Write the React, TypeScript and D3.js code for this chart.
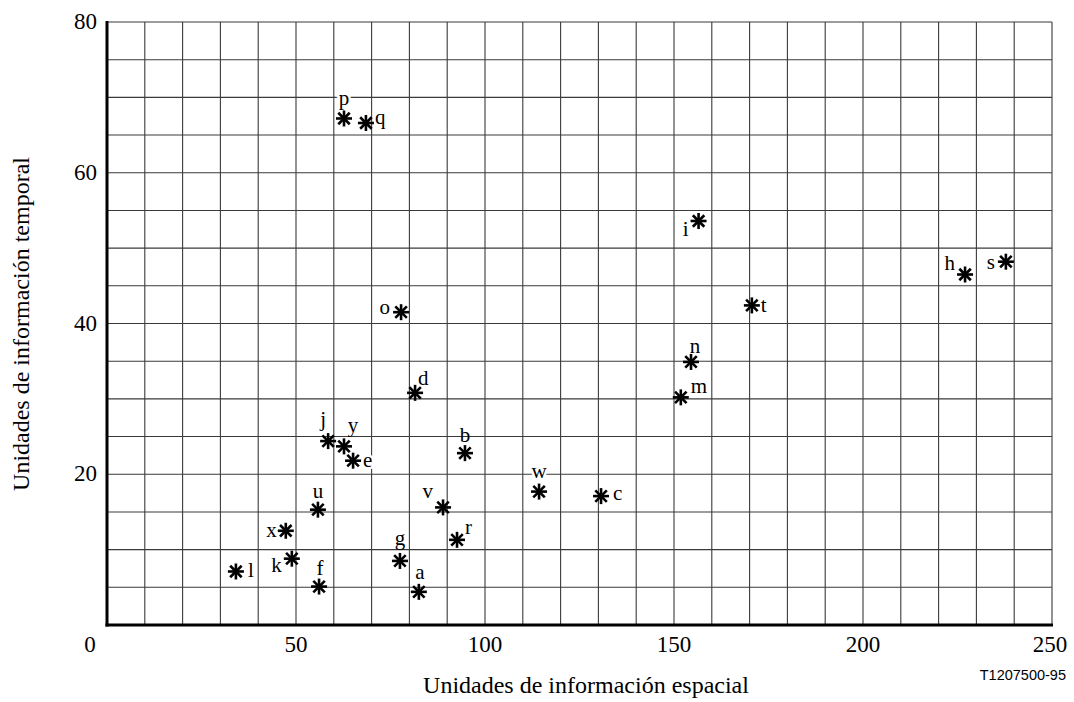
import React from "react";
import * as d3 from "d3";

const pointNames = ["a","b","c","d","e","f","g","h","i","j","k","l","m","n","o","p","q","r","s","t","u","v","w","x","y"];
const spatialValues = [82.5,94.7,130.7,81.5,65.1,56.1,77.5,227.0,156.5,58.5,48.9,34.1,151.8,154.5,77.8,62.7,68.5,92.6,237.8,170.6,55.8,88.9,114.3,47.3,62.7];
const temporalValues = [4.4,22.8,17.1,30.8,21.8,5.1,8.5,46.5,53.6,24.4,8.8,7.1,30.2,34.9,41.5,67.2,66.6,11.3,48.2,42.4,15.3,15.6,17.7,12.5,23.7];
const xTickValues = [0,50,100,150,200,250];
const yTickValues = [20,40,60,80];
const xTitle = "Unidades de información espacial";
const yTitle = "Unidades de información temporal";
const figureCode = "T1207500-95";

// label placement relative to marker centre: [dx, dy, anchor]
const labelPlace: Record<string, [number, number, string]> = {
  a: [1, -13, "middle"], b: [0, -11, "middle"], c: [12, 4, "start"], d: [3, -8, "start"],
  e: [10, 6, "start"], f: [1, -12, "middle"], g: [0, -16, "middle"], h: [-10, -5, "end"],
  i: [-10, 15, "end"], j: [-5, -15, "middle"], k: [-10, 13, "end"], l: [12, 6, "start"],
  m: [10, -4, "start"], n: [4, -9, "middle"], o: [-11, 2, "end"], p: [0, -13, "middle"],
  q: [9, 1, "start"], r: [8, -6, "start"], s: [-11, 7, "end"], t: [9, 7, "start"],
  u: [0, -12, "middle"], v: [-10, -9, "end"], w: [0, -14, "middle"], x: [-9, 6, "end"],
  y: [9, -14, "middle"],
};
const haloLabels = new Set(["p", "w", "h", "s", "k", "e"]);

const W = 1074, H = 702;
const serif = "'Liberation Serif', 'Times New Roman', serif";

export default function App() {
  const x = d3.scaleLinear().domain([0, 250]).range([107, 1052]);
  const y = d3.scaleLinear().domain([0, 80]).range([625, 22]);
  const xGrid = d3.range(0, 251, 10);
  const yGrid = d3.range(0, 81, 5);
  const pts = pointNames.map((n, i) => ({ n, sx: spatialValues[i], ty: temporalValues[i] }));
  const arm = 8;
  const diag = arm * 0.72;

  return (
    <svg width={W} height={H} style={{ position: "absolute", left: 0, top: 0, background: "#fff" }}>
      <rect width={W} height={H} fill="#fff" />
      <g stroke="#3a3a3a" strokeWidth={1.1}>
        {xGrid.map((v) => (
          <line key={"vx" + v} x1={x(v)} x2={x(v)} y1={y(80)} y2={y(0)} />
        ))}
        {yGrid.map((v) => (
          <line key={"hy" + v} x1={x(0)} x2={x(250)} y1={y(v)} y2={y(v)} />
        ))}
      </g>
      <line x1={x(0)} x2={x(0)} y1={y(80) - 1} y2={y(0) + 1.5} stroke="#000" strokeWidth={3} />
      <line x1={x(0) - 1.5} x2={x(250) + 1} y1={y(0)} y2={y(0)} stroke="#000" strokeWidth={3} />

      {pts.map((p) => {
        const cx = x(p.sx), cy = y(p.ty);
        const [dx, dy, anchor] = labelPlace[p.n];
        return (
          <g key={p.n}>
            {haloLabels.has(p.n) && (
              <text x={cx + dx} y={cy + dy} textAnchor={anchor} fontFamily={serif} fontSize={21}
                stroke="#fff" strokeWidth={5} fill="#fff">{p.n}</text>
            )}
            <text x={cx + dx} y={cy + dy} textAnchor={anchor} fontFamily={serif} fontSize={21} fill="#000">{p.n}</text>
            <g stroke="#000" strokeWidth={2.6}>
              <line x1={cx - arm} x2={cx + arm} y1={cy} y2={cy} />
              <line x1={cx} x2={cx} y1={cy - arm} y2={cy + arm} />
              <line x1={cx - diag} x2={cx + diag} y1={cy - diag} y2={cy + diag} />
              <line x1={cx - diag} x2={cx + diag} y1={cy + diag} y2={cy - diag} />
            </g>
          </g>
        );
      })}

      <g fontFamily={serif} fontSize={23} fill="#000">
        {yTickValues.map((v) => (
          <text key={"yt" + v} x={97} y={y(v) + 7} textAnchor="end">{v}</text>
        ))}
        {xTickValues.map((v) => (
          <text key={"xt" + v} x={v === 0 ? 90 : v === 250 ? x(v) - 2 : x(v)} y={652} textAnchor="middle">{v}</text>
        ))}
      </g>
      <text x={586} y={693} textAnchor="middle" fontFamily={serif} fontSize={24}>{xTitle}</text>
      <text transform={`translate(29, 324) rotate(-90)`} textAnchor="middle" fontFamily={serif} fontSize={24}>{yTitle}</text>
      <text x={1066} y={680} textAnchor="end" fontFamily="'Liberation Sans', Arial, sans-serif" fontSize={14.5}>{figureCode}</text>
    </svg>
  );
}
